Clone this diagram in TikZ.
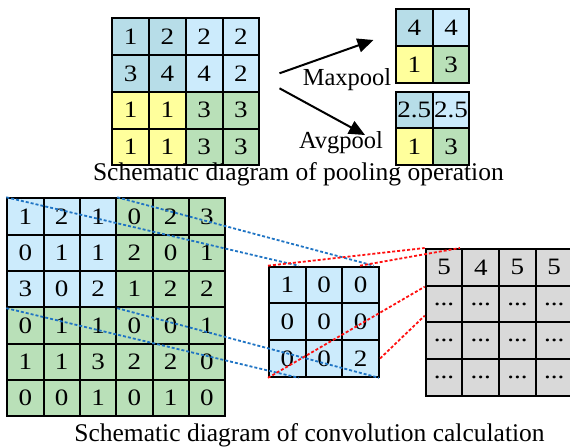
\documentclass[tikz,border=0pt]{standalone}
\usepackage{graphicx}
\usepackage{fontspec}
\setmainfont{Liberation Serif}
\usetikzlibrary{arrows.meta,calc}

\definecolor{cA}{HTML}{B7DDE8}
\definecolor{cB}{HTML}{CCEBFC}
\definecolor{cY}{HTML}{FFFF9C}
\definecolor{cG}{HTML}{B9E0B8}
\definecolor{cK}{HTML}{D9D9D9}
\definecolor{linkblue}{HTML}{1F74C4}
\definecolor{linkred}{HTML}{FF1010}

% digits in the cells are set slightly wide
\newcommand{\dg}[1]{\scalebox{1.15}[1]{#1}}
% three dots, kept out of \foreach's own "..." syntax
\newcommand{\tdots}{...}

% \drawgrid{name}{x0}{y0}{cell size}{rows of value/colour pairs}
\newcommand{\drawgrid}[5]{%
  \foreach \row [count=\r from 0] in {#5} {
    \foreach \v/\c [count=\cc from 0] in \row {
      \node[cell=\c, minimum size=#4pt] (#1-\r-\cc)
        at ({#2+#4*\cc+#4/2}, {#3+#4*\r+#4/2}) {\dg{\v}};
    }
  }%
}

\tikzset{
  cell/.style={draw, line width=2pt, fill=#1, inner sep=0pt,
    font=\fontsize{23.5}{27}\selectfont},
  caption/.style={anchor=base, inner sep=0pt, font=\fontsize{25.5}{30}\selectfont},
  poollabel/.style={inner sep=0pt, font=\fontsize{24.5}{29}\selectfont},
  poolarrow/.style={line width=2pt, -{Triangle[length=16pt,width=14pt]}},
  bluelink/.style={linkblue, line width=1.8pt, dash pattern=on 3pt off 2pt},
  redlink/.style={linkred, line width=1.8pt, dash pattern=on 3pt off 2pt},
}

\begin{document}
\begin{tikzpicture}[x=1pt, y=-1pt]
\useasboundingbox (0,0) rectangle (570,447);

% ---------- pooling ----------
\drawgrid{p}{112.3}{18.3}{36.75}{
  {1/cA,2/cA,2/cB,2/cB},
  {3/cA,4/cA,4/cB,2/cB},
  {1/cY,1/cY,3/cG,3/cG},
  {1/cY,1/cY,3/cG,3/cG}}

\drawgrid{mx}{396}{9.3}{36.7}{
  {4/cA,4/cB},
  {1/cY,3/cG}}

\drawgrid{av}{396}{91.7}{36.7}{
  {2.5/cA,2.5/cB},
  {1/cY,3/cG}}

\coordinate (upS) at (279.5,73.3);
\coordinate (upE) at (373.5,40);
\coordinate (dnS) at (279.5,88.3);
\coordinate (dnE) at (365,135);
\draw[poolarrow] (upS) -- (upE);
\draw[poolarrow] (dnS) -- (dnE);

\node[poollabel] (maxlbl) at (347,80) {Maxpool};
\node[poollabel] (avglbl) at (341,143) {Avgpool};

\node[caption] (cap1) at (298.4,180) {Schematic diagram of pooling operation};

% ---------- convolution ----------
\drawgrid{b}{7.3}{198.3}{36.3}{
  {1/cB,2/cB,1/cB,0/cG,2/cG,3/cG},
  {0/cB,1/cB,1/cB,2/cG,0/cG,1/cG},
  {3/cB,0/cB,2/cB,1/cG,2/cG,2/cG},
  {0/cG,1/cG,1/cG,0/cG,0/cG,1/cG},
  {1/cG,1/cG,3/cG,2/cG,2/cG,0/cG},
  {0/cG,0/cG,1/cG,0/cG,1/cG,0/cG}}

\drawgrid{k}{269}{266.7}{36.7}{
  {1/cB,0/cB,0/cB},
  {0/cB,0/cB,0/cB},
  {0/cB,0/cB,2/cB}}

\drawgrid{o}{425.7}{249}{36.7}{
  {5/cK,4/cK,5/cK,5/cK},
  {\tdots/cK,\tdots/cK,\tdots/cK,\tdots/cK},
  {\tdots/cK,\tdots/cK,\tdots/cK,\tdots/cK},
  {\tdots/cK,\tdots/cK,\tdots/cK,\tdots/cK}}

% end points of the dashed links on the kernel and the output
\coordinate (kTa) at ($(k-0-0.north west)!0.79!(k-0-0.north east)$);
\coordinate (kTb) at ($(k-0-2.north west)!0.84!(k-0-2.north east)$);
\coordinate (kBa) at ($(k-2-0.south west)!0.79!(k-2-0.south east)$);
\coordinate (kBb) at ($(k-2-2.south west)!0.97!(k-2-2.south east)$);
\coordinate (kTm) at ($(k-0-2.north west)!0.48!(k-0-2.north east)$);
\coordinate (oTm) at ($(o-0-0.north west)!0.91!(o-0-0.north east)$);
\coordinate (oL)  at ($(o-1-0.north west)!0.8!(o-1-0.south west)$);

\draw[bluelink] (b-0-0.north west) -- (kTa);
\draw[bluelink] (b-0-2.north east) -- (kTb);
\draw[bluelink] (b-2-0.south west) -- (kBa);
\draw[bluelink] (b-2-2.south east) -- (kBb);

\draw[redlink] (k-0-0.north west) -- (o-0-0.north west);
\draw[redlink] (kTm) -- (oTm);
\draw[redlink] (k-2-0.south west) -- (o-0-0.south west);
\draw[redlink] (k-2-2.east) -- (oL);

\node[caption] (cap2) at (309.5,441) {Schematic diagram of convolution calculation};
\end{tikzpicture}
\end{document}
